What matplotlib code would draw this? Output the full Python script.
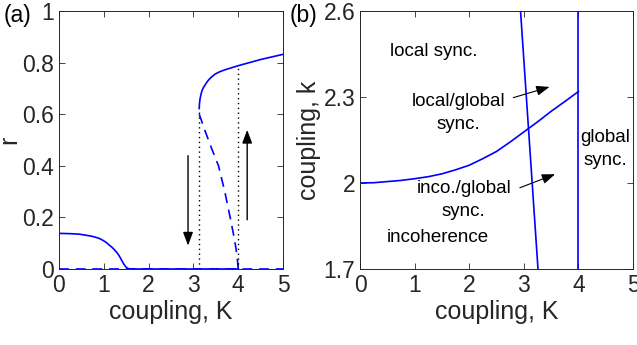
import matplotlib
matplotlib.use('Agg')
import matplotlib.pyplot as plt
import numpy as np

plt.rcParams['font.family'] = ['Liberation Sans', 'DejaVu Sans']

# panel (a): order parameter r vs coupling K
K_low = [0.0, 0.25, 0.45, 0.6, 0.7, 0.8, 0.89, 0.95, 1.0, 1.06, 1.12, 1.17, 1.22, 1.26, 1.3,
         1.34, 1.38, 1.41, 1.44, 1.47, 1.5, 1.53, 1.56, 1.6, 1.65]
r_low = [0.138, 0.137, 0.135, 0.131, 0.128, 0.124, 0.119, 0.114, 0.109, 0.102, 0.093, 0.086,
         0.078, 0.07, 0.062, 0.052, 0.04, 0.03, 0.021, 0.013, 0.007, 0.003, 0.001, 0.0, 0.0]
K_up = [3.13, 3.135, 3.145, 3.16, 3.18, 3.2, 3.23, 3.26, 3.3, 3.35, 3.41, 3.48, 3.58, 3.7, 3.85,
        4.0, 4.25, 4.5, 4.75, 5.0]
r_up = [0.622, 0.64, 0.656, 0.67, 0.684, 0.695, 0.705, 0.713, 0.724, 0.735, 0.745, 0.755,
        0.764, 0.772, 0.78, 0.788, 0.8, 0.812, 0.822, 0.832]
K_unst = [3.13, 3.25, 3.4, 3.56, 3.7, 3.82, 3.9, 3.95, 3.98, 4.0]
r_unst = [0.6, 0.54, 0.47, 0.4, 0.3, 0.2, 0.13, 0.08, 0.04, 0.0]
K_sn = 3.13
r_sn = 0.622
K_c = 4.0
r_c = 0.788

# panel (b): phase diagram
K_curve = [0.0, 0.25, 0.5, 0.75, 1.0, 1.25, 1.5, 1.75, 2.0, 2.25, 2.5, 2.75, 3.0, 3.25,
           3.5, 3.75, 4.0]
k_curve = [2.0, 2.001, 2.005, 2.009, 2.015, 2.022, 2.032, 2.046, 2.062, 2.085, 2.11, 2.143,
           2.178, 2.213, 2.25, 2.284, 2.319]
K_line = [2.94, 3.26]
k_line = [2.6, 1.7]
labels_b = ['local sync.', 'local/global\nsync.', 'inco./global\nsync.', 'incoherence', 'global\nsync.']
label_pos = [(1.35, 2.46), (1.81, 2.245), (1.9, 1.94), (1.43, 1.81), (4.49, 2.12)]

grey = (0.15, 0.15, 0.15)
blue = (0, 0, 1)

fig = plt.figure(figsize=(6.37, 3.45), dpi=100)
ax1 = fig.add_axes([0.0926, 0.2203, 0.3517, 0.7478])
ax2 = fig.add_axes([0.5652, 0.2203, 0.4285, 0.7478])

for ax in (ax1, ax2):
    ax.tick_params(direction='in', top=True, right=True, labelsize=16.5,
                   colors=grey, length=4, width=0.6)
    for s in ax.spines.values():
        s.set_color(grey)
        s.set_linewidth(0.7)

# (a)
ax1.plot([0, 5], [0, 0], color=blue, lw=1.2, ls=(0, (6, 4)), zorder=3)
ax1.plot([1.55, 4.0], [0, 0], color=blue, lw=1.2, zorder=4)
ax1.plot(K_low, r_low, color=blue, lw=1.2)
ax1.plot(K_up, r_up, color=blue, lw=1.2)
ax1.plot(K_unst, r_unst, color=blue, lw=1.2, ls=(0, (6, 4)))
ax1.plot([K_sn, K_sn], [0, r_sn], color='k', lw=1.0, ls=(0, (1, 2.5)))
ax1.plot([K_c, K_c], [0, r_c], color='k', lw=1.0, ls=(0, (1, 2.5)))
ax1.annotate('', xy=(2.88, 0.08), xytext=(2.88, 0.45),
             arrowprops=dict(arrowstyle='-|>,head_length=0.8,head_width=0.3',
                             color='k', lw=1.0))
ax1.annotate('', xy=(4.2, 0.55), xytext=(4.2, 0.18),
             arrowprops=dict(arrowstyle='-|>,head_length=0.8,head_width=0.3',
                             color=(0.45, 0.45, 0.45), lw=1.0, ec='k', fc='k'))
ax1.set_xlim(0, 5)
ax1.set_ylim(0, 1)
ax1.set_xticks([0, 1, 2, 3, 4, 5])
ax1.set_yticks([0, 0.2, 0.4, 0.6, 0.8, 1])
ax1.set_yticklabels(['0', '0.2', '0.4', '0.6', '0.8', '1'])
ax1.set_xlabel('coupling, K', fontsize=18, color=grey, labelpad=2)
ax1.set_ylabel('r', fontsize=18, color=grey, labelpad=1)
fig.text(0.005, 0.935, '(a)', fontsize=16.5, color='k')

# (b)
ax2.plot(K_curve, k_curve, color=blue, lw=1.2)
ax2.plot(K_line, k_line, color=blue, lw=1.2)
ax2.plot([4, 4], [1.7, 2.6], color=blue, lw=1.2)
for txt, (x, y) in zip(labels_b, label_pos):
    ax2.text(x, y, txt, fontsize=13.5, ha='center', va='center', color='k',
             linespacing=1.45)
ax2.annotate('', xy=(3.52, 2.338), xytext=(2.76, 2.295),
             arrowprops=dict(arrowstyle='-|>,head_length=0.8,head_width=0.3',
                             color='k', lw=0.8))
ax2.annotate('', xy=(3.62, 2.034), xytext=(2.88, 1.98),
             arrowprops=dict(arrowstyle='-|>,head_length=0.8,head_width=0.3',
                             color='k', lw=0.8))
ax2.set_xlim(0, 5)
ax2.set_ylim(1.7, 2.6)
ax2.set_xticks([0, 1, 2, 3, 4, 5])
ax2.set_yticks([1.7, 2.0, 2.3, 2.6])
ax2.set_yticklabels(['1.7', '2', '2.3', '2.6'])
ax2.set_xlabel('coupling, K', fontsize=18, color=grey, labelpad=2)
ax2.set_ylabel('coupling, k', fontsize=18, color=grey, labelpad=2)
fig.text(0.455, 0.935, '(b)', fontsize=16.5, color='k')

fig.savefig('out.png', dpi=100)
